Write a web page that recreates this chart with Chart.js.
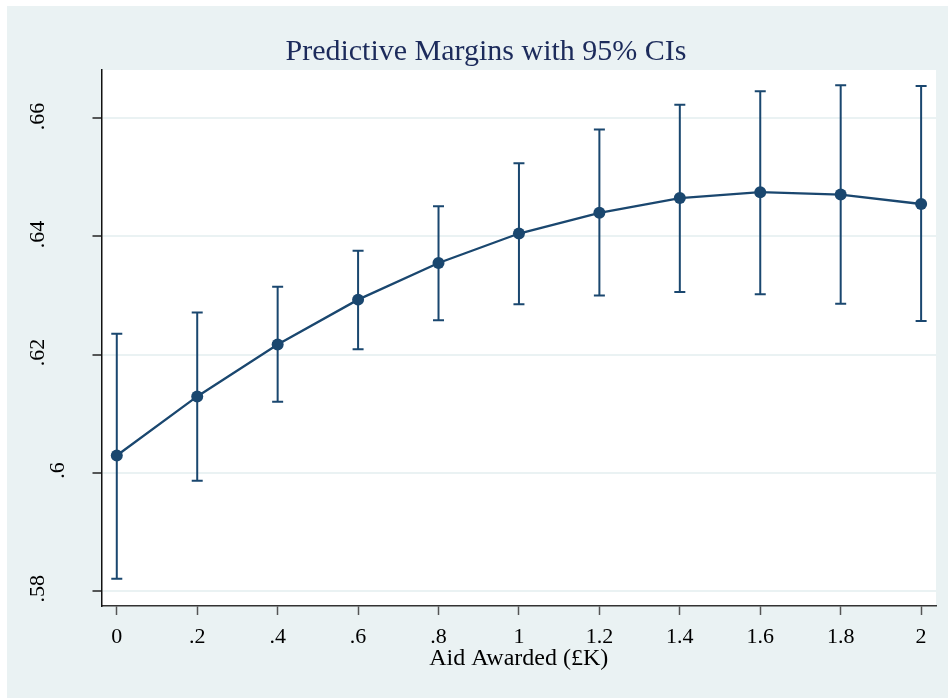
<!DOCTYPE html>
<html>
<head>
<meta charset="utf-8">
<script src="https://cdn.jsdelivr.net/npm/chart.js@4.4.1/dist/chart.umd.min.js"></script>
<style>
  html, body { margin: 0; padding: 0; background: #ffffff; }
  canvas { display: block; }
</style>
</head>
<body>
<canvas id="marginsChart" width="948" height="698"></canvas>
<script>
// values
const aidAwarded = [0, 0.2, 0.4, 0.6, 0.8, 1, 1.2, 1.4, 1.6, 1.8, 2];
const margins = [0.6029, 0.6129, 0.6217, 0.6293, 0.6355, 0.6405, 0.6440, 0.6465, 0.6475, 0.6471, 0.6455];
const ciLow = [0.5820, 0.5986, 0.6120, 0.6209, 0.6258, 0.6285, 0.6300, 0.6306, 0.6302, 0.6286, 0.6257];
const ciHigh = [0.6235, 0.6271, 0.6315, 0.6376, 0.6451, 0.6524, 0.6581, 0.6623, 0.6646, 0.6656, 0.6655];
const xTicks = [0, 0.2, 0.4, 0.6, 0.8, 1, 1.2, 1.4, 1.6, 1.8, 2];
const yTicks = [0.58, 0.6, 0.62, 0.64, 0.66];

const navy = '#1a476f';
const serif = '"Liberation Serif", "Times New Roman", serif';

// Stata style labels: 0.2 -> ".2"
function stataLabel(v) {
    let s = String(Math.round(v * 1000) / 1000);
    return s.replace(/^0\./, '.');
}

// background, title, rotated y labels
const stataFrame = {
    id: 'stataFrame',
    beforeDraw(chart) {
        const c = chart.ctx;
        const a = chart.chartArea;
        c.save();
        c.fillStyle = '#eaf2f3';
        c.fillRect(7, 6, chart.width - 7, chart.height - 6);
        c.fillStyle = '#ffffff';
        c.fillRect(a.left, a.top, a.right - a.left, a.bottom - a.top);
        c.restore();
    },
    afterDraw(chart) {
        const c = chart.ctx;
        const yScale = chart.scales.y;
        c.save();
        c.fillStyle = '#1c2b5b';
        c.font = '30px ' + serif;
        c.textAlign = 'center';
        c.textBaseline = 'alphabetic';
        c.fillText('Predictive Margins with 95% CIs', 486, 59.5);

        c.fillStyle = '#000000';
        c.font = '22px ' + serif;
        yTicks.forEach(function (v) {
            const lbl = stataLabel(v);
            const shift = lbl.length < 3 ? 20 : 0;
            c.save();
            c.translate(43.5 + shift, yScale.getPixelForValue(v) - 2);
            c.rotate(-Math.PI / 2);
            c.fillText(lbl, 0, 0);
            c.restore();
        });
        c.restore();
    }
};

// confidence interval caps, drawn under the line
const ciCaps = {
    id: 'ciCaps',
    beforeDatasetsDraw(chart) {
        const c = chart.ctx;
        const xs = chart.scales.x, ys = chart.scales.y;
        c.save();
        c.strokeStyle = navy;
        c.lineWidth = 2;
        aidAwarded.forEach(function (x, i) {
            const px = xs.getPixelForValue(x);
            const lo = ys.getPixelForValue(ciLow[i]);
            const hi = ys.getPixelForValue(ciHigh[i]);
            c.beginPath();
            c.moveTo(px, lo); c.lineTo(px, hi);
            c.moveTo(px - 5.5, lo); c.lineTo(px + 5.5, lo);
            c.moveTo(px - 5.5, hi); c.lineTo(px + 5.5, hi);
            c.stroke();
        });
        c.restore();
    }
};

document.addEventListener("DOMContentLoaded", function () {
    let ctx = document.getElementById('marginsChart').getContext('2d');

    new Chart(ctx, {
        type: 'line',
        data: {
            datasets: [{
                data: aidAwarded.map((x, i) => ({ x: x, y: margins[i] })),
                borderColor: navy,
                backgroundColor: navy,
                borderWidth: 2.3,
                pointRadius: 6,
                pointBorderWidth: 0,
                pointBackgroundColor: navy,
                tension: 0,
                fill: false
            }]
        },
        options: {
            responsive: false,
            animation: false,
            layout: { padding: { left: 0, top: 70, right: 12, bottom: 0 } },
            plugins: {
                legend: { display: false },
                tooltip: { enabled: false },
                title: { display: false }
            },
            scales: {
                x: {
                    type: 'linear',
                    min: -0.038,
                    max: 2.037,
                    afterBuildTicks: function (axis) {
                        axis.ticks = xTicks.map(v => ({ value: v }));
                    },
                    afterFit: function (axis) { axis.height = 92; },
                    border: { display: true, color: '#333333', width: 1.5 },
                    grid: {
                        drawOnChartArea: false,
                        drawTicks: true,
                        tickLength: 9,
                        tickColor: '#555555',
                        tickWidth: 1.5
                    },
                    ticks: {
                        color: '#000000',
                        font: { family: serif, size: 22 },
                        padding: 9.5,
                        maxRotation: 0,
                        autoSkip: false,
                        callback: v => stataLabel(v)
                    },
                    title: {
                        display: true,
                        text: 'Aid Awarded (£K)',
                        color: '#000000',
                        font: { family: serif, size: 24 },
                        padding: { top: 0, bottom: 24.5 }
                    }
                },
                y: {
                    type: 'linear',
                    min: 0.5774,
                    max: 0.6682,
                    afterBuildTicks: function (axis) {
                        axis.ticks = yTicks.map(v => ({ value: v }));
                    },
                    afterFit: function (axis) { axis.width = 101.5; },
                    border: { display: true, color: '#111111', width: 1.5 },
                    grid: {
                        color: '#eaf2f3',
                        lineWidth: 2,
                        drawTicks: true,
                        tickLength: 9,
                        tickColor: '#222222',
                        tickWidth: 1.5
                    },
                    ticks: { display: false }
                }
            }
        },
        plugins: [stataFrame, ciCaps]
    });
});
</script>
</body>
</html>
